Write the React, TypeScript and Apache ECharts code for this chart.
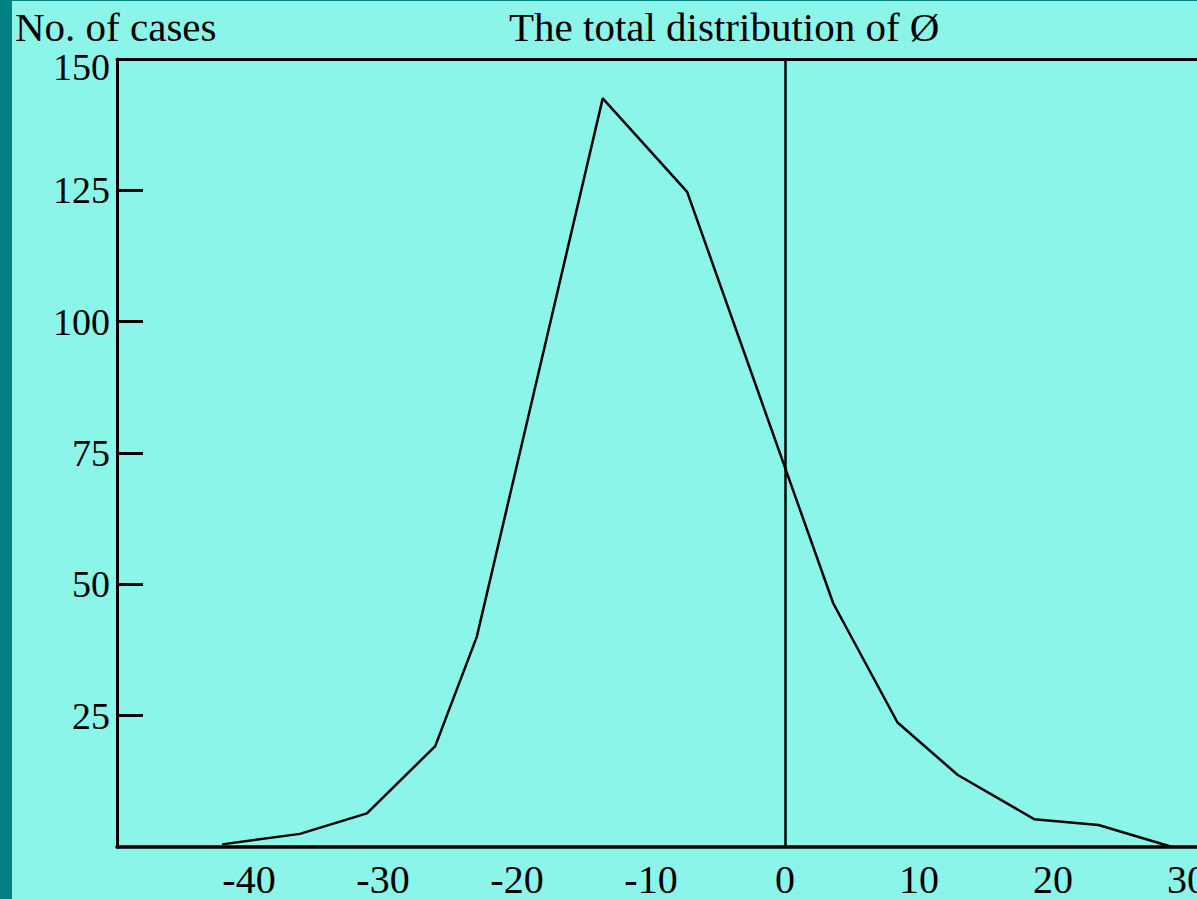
import React, { useEffect, useRef } from "react";
import * as echarts from "echarts";

// Data
const phiValues = [-42.0, -36.2, -31.2, -26.1, -23.0, -13.6, -7.3, 3.6, 8.4, 12.9, 18.6, 23.4, 28.9];
const caseCounts = [0.5, 2.5, 6.4, 19.2, 40.0, 142.5, 124.7, 46.4, 23.7, 13.7, 5.3, 4.2, 0];
const xTickLabels = [-40, -30, -20, -10, 0, 10, 20, 30];
const yTickLabels = [25, 50, 75, 100, 125, 150];
const yTickMarks = [25, 50, 75, 100, 125];

const FONT = "'Liberation Serif', 'Times New Roman', serif";
const X_MIN = -49.85;
const X_MAX = 30.75;

export default function App() {
  const ref = useRef<HTMLDivElement>(null);

  useEffect(() => {
    if (!ref.current) return;
    const chart = echarts.init(ref.current, null, { renderer: "svg" });
    const points = phiValues.map((x, i) => [x, caseCounts[i]]);
    chart.setOption({
      animation: false,
      backgroundColor: "#8cf5e9",
      title: [
        {
          text: "No. of cases",
          left: 3,
          top: 5,
          padding: 0,
          textStyle: { fontFamily: FONT, fontSize: 41, fontWeight: "normal", color: "#000" },
        },
        {
          text: "The total distribution of Ø",
          left: 497,
          top: 5,
          padding: 0,
          textStyle: { fontFamily: FONT, fontSize: 41, fontWeight: "normal", color: "#000" },
        },
      ],
      grid: {
        left: 105,
        top: 58,
        right: 0,
        bottom: 52,
        containLabel: false,
        outerBoundsMode: "none",
      },
      xAxis: [
        {
          type: "value",
          min: X_MIN,
          max: X_MAX,
          axisLine: { show: true, onZero: false, lineStyle: { color: "#000", width: 3.5 } },
          axisTick: { show: false },
          splitLine: { show: false },
          axisLabel: {
            customValues: xTickLabels,
            fontFamily: FONT,
            fontSize: 40,
            lineHeight: 36,
            color: "#000",
            margin: 14,
          },
        },
        {
          type: "value",
          position: "top",
          min: X_MIN,
          max: X_MAX,
          axisLine: { show: true, onZero: false, lineStyle: { color: "#000", width: 3 } },
          axisTick: { show: false },
          axisLabel: { show: false },
          splitLine: { show: false },
        },
      ],
      yAxis: {
        type: "value",
        min: 0,
        max: 150,
        axisLine: { show: true, onZero: false, lineStyle: { color: "#000", width: 3 } },
        axisTick: {
          show: true,
          inside: true,
          length: 26,
          customValues: yTickMarks,
          lineStyle: { color: "#000", width: 3 },
        },
        splitLine: { show: false },
        axisLabel: {
          customValues: yTickLabels,
          fontFamily: FONT,
          fontSize: 38,
          color: "#000",
          margin: 7,
          formatter: (v: number) => (v === 150 ? "{low|150}" : String(v)),
          rich: {
            low: { fontFamily: FONT, fontSize: 38, color: "#000", padding: [16, 0, 0, 0] },
          },
        },
      },
      series: [
        {
          type: "line",
          data: points,
          symbol: "none",
          lineStyle: { color: "#000", width: 2.5 },
          markLine: {
            silent: true,
            symbol: ["none", "none"],
            label: { show: false },
            lineStyle: { color: "#000", width: 2.5, type: "solid" },
            data: [{ xAxis: 0 }],
          },
        },
      ],
    });
    return () => chart.dispose();
  }, []);

  return (
    <div
      style={{
        position: "fixed",
        left: 0,
        top: 0,
        width: 1197,
        height: 899,
        background: "#008080",
        overflow: "hidden",
      }}
    >
      <div
        ref={ref}
        style={{ position: "absolute", left: 12, top: 1, width: 1185, height: 898 }}
      />
    </div>
  );
}
